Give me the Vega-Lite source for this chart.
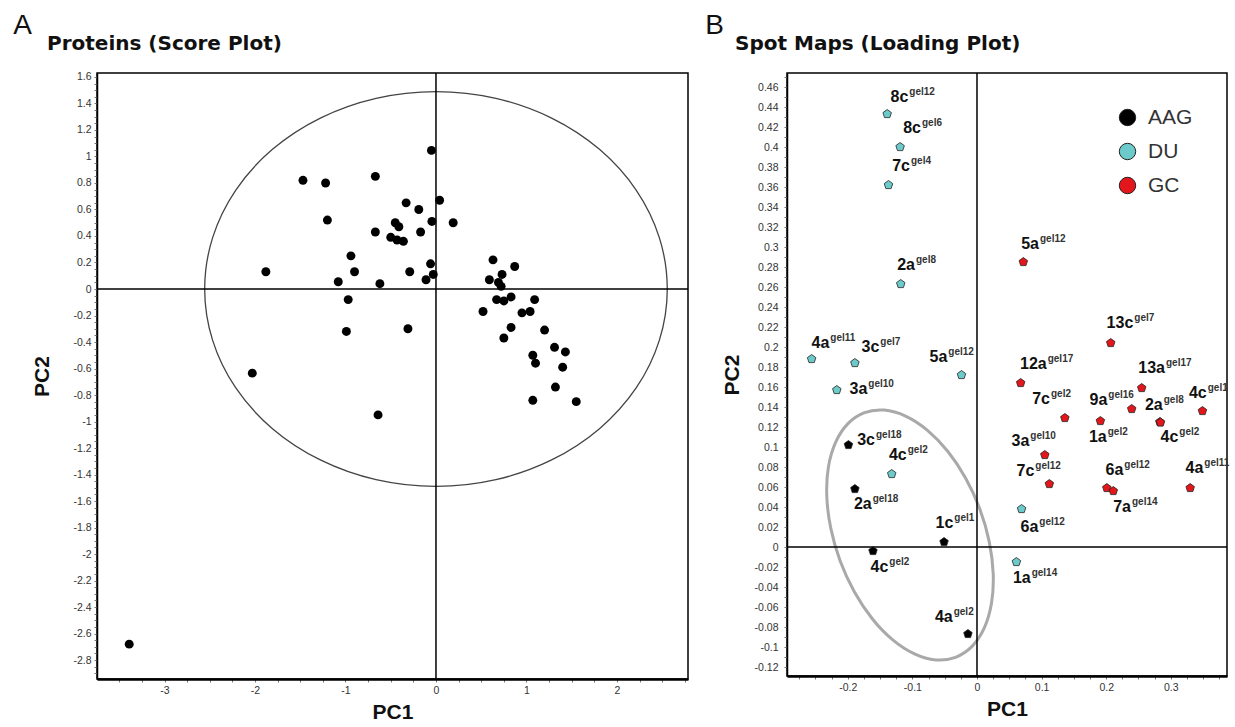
{
  "$schema": "https://vega.github.io/schema/vega-lite/v6.json",
  "padding": {"left": 13, "top": 12, "right": 0, "bottom": 0},
  "background": "white",
  "config": {
    "font": "Liberation Sans",
    "view": {"stroke": "#000", "strokeWidth": 1.5},
    "axis": {"grid": false, "labelFont": "Liberation Sans", "labelFontSize": 10.5, "labelColor": "#333", "tickColor": "#777", "tickSize": 3, "domainColor": "#000", "titleFont": "Liberation Sans", "titleFontSize": 21, "titleFontWeight": "bold", "titleColor": "#111", "labelFlush": false, "labelOverlap": false, "tickCount": 1000},
    "axisX": {"domainWidth": 2.5, "labelPadding": 3, "titlePadding": 6},
    "axisY": {"domainWidth": 1.5, "labelPadding": 3}
  },
  "spacing": 15,
  "resolve": {"scale": {"fill": "independent"}, "legend": {"fill": "independent"}},
  "hconcat": [
    {
      "title": {"text": "A", "anchor": "start", "fontSize": 28, "fontWeight": "normal", "font": "Liberation Sans", "dx": -18, "color": "#111", "offset": -7},
      "vconcat": [
        {
          "width": 591,
          "height": 606,
          "title": {"text": "Proteins (Score Plot)", "anchor": "start", "frame": "group", "font": "DejaVu Sans", "fontSize": 20, "fontWeight": "bold", "dx": -50, "offset": 18, "color": "#111"},
          "layer": [
            {
              "data": {"values": [
                {"i": 0, "x": 2.556, "y": 0}, {"i": 1, "x": 2.469, "y": 0.386}, {"i": 2, "x": 2.214, "y": 0.745}, {"i": 3, "x": 1.807, "y": 1.054},
                {"i": 4, "x": 1.278, "y": 1.29}, {"i": 5, "x": 0.662, "y": 1.439}, {"i": 6, "x": 0, "y": 1.49}, {"i": 7, "x": -0.662, "y": 1.439},
                {"i": 8, "x": -1.278, "y": 1.29}, {"i": 9, "x": -1.807, "y": 1.054}, {"i": 10, "x": -2.214, "y": 0.745}, {"i": 11, "x": -2.469, "y": 0.386},
                {"i": 12, "x": -2.556, "y": 0}, {"i": 13, "x": -2.469, "y": -0.386}, {"i": 14, "x": -2.214, "y": -0.745}, {"i": 15, "x": -1.807, "y": -1.054},
                {"i": 16, "x": -1.278, "y": -1.29}, {"i": 17, "x": -0.662, "y": -1.439}, {"i": 18, "x": 0, "y": -1.49}, {"i": 19, "x": 0.662, "y": -1.439},
                {"i": 20, "x": 1.278, "y": -1.29}, {"i": 21, "x": 1.807, "y": -1.054}, {"i": 22, "x": 2.214, "y": -0.745}, {"i": 23, "x": 2.469, "y": -0.386}
              ]},
              "mark": {"type": "line", "interpolate": "cardinal-closed", "stroke": "#444", "strokeWidth": 1.3},
              "encoding": {
                "x": {"field": "x", "type": "quantitative", "scale": {"domain": [-3.746, 2.785], "nice": false, "zero": false},
                  "axis": {"title": "PC1", "labelOverlap": false, "tickCount": 1000, "values": [-3.75,-3.5,-3.25,-3,-2.75,-2.5,-2.25,-2,-1.75,-1.5,-1.25,-1,-0.75,-0.5,-0.25,0,0.25,0.5,0.75,1,1.25,1.5,1.75,2,2.25,2.5,2.75],
                    "labelExpr": "abs(datum.value - round(datum.value)) < 0.001 ? '' + datum.value : ''"}},
                "y": {"field": "y", "type": "quantitative", "scale": {"domain": [-2.943, 1.63], "nice": false, "zero": false},
                  "axis": {"title": "PC2", "titlePadding": 20, "labelOverlap": false, "tickCount": 1000, "values": [1.6,1.55,1.5,1.45,1.4,1.35,1.3,1.25,1.2,1.15,1.1,1.05,1,0.95,0.9,0.85,0.8,0.75,0.7,0.65,0.6,0.55,0.5,0.45,0.4,0.35,0.3,0.25,0.2,0.15,0.1,0.05,0,-0.05,-0.1,-0.15,-0.2,-0.25,-0.3,-0.35,-0.4,-0.45,-0.5,-0.55,-0.6,-0.65,-0.7,-0.75,-0.8,-0.85,-0.9,-0.95,-1,-1.05,-1.1,-1.15,-1.2,-1.25,-1.3,-1.35,-1.4,-1.45,-1.5,-1.55,-1.6,-1.65,-1.7,-1.75,-1.8,-1.85,-1.9,-1.95,-2,-2.05,-2.1,-2.15,-2.2,-2.25,-2.3,-2.35,-2.4,-2.45,-2.5,-2.55,-2.6,-2.65,-2.7,-2.75,-2.8,-2.85,-2.9],
                    "labelExpr": "abs(datum.value*5 - round(datum.value*5)) < 0.001 ? '' + datum.value : ''"}},
                "order": {"field": "i", "type": "quantitative"}
              }
            },
            {
              "data": {"values": [{"v": 0}]},
              "mark": {"type": "rule", "stroke": "#000", "strokeWidth": 1.5},
              "encoding": {"x": {"field": "v", "type": "quantitative"}}
            },
            {
              "data": {"values": [{"v": 0}]},
              "mark": {"type": "rule", "stroke": "#000", "strokeWidth": 1.5},
              "encoding": {"y": {"field": "v", "type": "quantitative"}}
            },
            {
              "data": {"values": [
                {"x": -0.05, "y": 1.046}, {"x": -1.47, "y": 0.82}, {"x": -1.22, "y": 0.8}, {"x": -0.67, "y": 0.85}, {"x": -0.33, "y": 0.65},
                {"x": 0.04, "y": 0.67}, {"x": -0.19, "y": 0.6}, {"x": -1.2, "y": 0.52}, {"x": -0.45, "y": 0.5}, {"x": -0.41, "y": 0.47},
                {"x": -0.045, "y": 0.51}, {"x": 0.19, "y": 0.5}, {"x": -0.67, "y": 0.43}, {"x": -0.17, "y": 0.43}, {"x": -0.5, "y": 0.39},
                {"x": -0.43, "y": 0.37}, {"x": -0.36, "y": 0.36}, {"x": -0.94, "y": 0.25}, {"x": -1.88, "y": 0.13}, {"x": -0.9, "y": 0.13},
                {"x": -0.29, "y": 0.13}, {"x": -0.06, "y": 0.19}, {"x": -0.03, "y": 0.11}, {"x": -0.11, "y": 0.07}, {"x": -1.08, "y": 0.055},
                {"x": -0.62, "y": 0.04}, {"x": -0.97, "y": -0.08}, {"x": -0.99, "y": -0.32}, {"x": -0.31, "y": -0.3}, {"x": -2.03, "y": -0.635},
                {"x": -0.64, "y": -0.95}, {"x": -3.39, "y": -2.68}, {"x": 0.63, "y": 0.22}, {"x": 0.87, "y": 0.17}, {"x": 0.73, "y": 0.11},
                {"x": 0.59, "y": 0.07}, {"x": 0.69, "y": 0.05}, {"x": 0.72, "y": 0.02}, {"x": 0.67, "y": -0.08}, {"x": 0.75, "y": -0.09},
                {"x": 0.83, "y": -0.06}, {"x": 1.09, "y": -0.08}, {"x": 0.52, "y": -0.17}, {"x": 0.95, "y": -0.18}, {"x": 1.04, "y": -0.17},
                {"x": 0.83, "y": -0.29}, {"x": 0.75, "y": -0.37}, {"x": 1.2, "y": -0.31}, {"x": 1.31, "y": -0.44}, {"x": 1.43, "y": -0.475},
                {"x": 1.07, "y": -0.5}, {"x": 1.1, "y": -0.56}, {"x": 1.4, "y": -0.59}, {"x": 1.32, "y": -0.74}, {"x": 1.07, "y": -0.84},
                {"x": 1.55, "y": -0.85}
              ]},
              "mark": {"type": "point", "shape": "circle", "filled": true, "color": "#000", "size": 80, "opacity": 1},
              "encoding": {
                "x": {"field": "x", "type": "quantitative"},
                "y": {"field": "y", "type": "quantitative"}
              }
            }
          ]
        }
      ]
    },
    {
      "title": {"text": "B", "anchor": "start", "fontSize": 28, "fontWeight": "normal", "font": "Liberation Sans", "dx": -15, "color": "#111", "offset": -7},
      "resolve": {"scale": {"fill": "independent"}, "legend": {"fill": "independent"}},
      "vconcat": [
        {
          "width": 440,
          "height": 603,
          "title": {"text": "Spot Maps (Loading Plot)", "anchor": "start", "frame": "group", "font": "DejaVu Sans", "fontSize": 20, "fontWeight": "bold", "dx": -52, "offset": 18, "color": "#111"},
          "layer": [
            {
              "data": {"values": [
                {"i": 0, "x": -0.0333, "y": -0.1103}, {"i": 1, "x": -0.0077, "y": -0.0994}, {"i": 2, "x": 0.0113, "y": -0.0809}, {"i": 3, "x": 0.0225, "y": -0.0561},
                {"i": 4, "x": 0.0251, "y": -0.0267}, {"i": 5, "x": 0.0189, "y": 0.0054}, {"i": 6, "x": 0.0044, "y": 0.038}, {"i": 7, "x": -0.0175, "y": 0.0687},
                {"i": 8, "x": -0.0453, "y": 0.0957}, {"i": 9, "x": -0.0771, "y": 0.1169}, {"i": 10, "x": -0.1106, "y": 0.1309}, {"i": 11, "x": -0.1438, "y": 0.1369},
                {"i": 12, "x": -0.1741, "y": 0.1343}, {"i": 13, "x": -0.1997, "y": 0.1234}, {"i": 14, "x": -0.2187, "y": 0.1049}, {"i": 15, "x": -0.23, "y": 0.0801},
                {"i": 16, "x": -0.2325, "y": 0.0507}, {"i": 17, "x": -0.2263, "y": 0.0186}, {"i": 18, "x": -0.2118, "y": -0.014}, {"i": 19, "x": -0.1899, "y": -0.0447},
                {"i": 20, "x": -0.1621, "y": -0.0717}, {"i": 21, "x": -0.1304, "y": -0.0929}, {"i": 22, "x": -0.0968, "y": -0.1069}, {"i": 23, "x": -0.0637, "y": -0.1129}
              ]},
              "mark": {"type": "line", "interpolate": "cardinal-closed", "stroke": "#a9a9a9", "strokeWidth": 3},
              "encoding": {
                "x": {"field": "x", "type": "quantitative", "scale": {"domain": [-0.2941, 0.387], "nice": false, "zero": false},
                  "axis": {"title": "PC1", "labelOverlap": false, "tickCount": 1000, "values": [-0.275,-0.25,-0.225,-0.2,-0.175,-0.15,-0.125,-0.1,-0.075,-0.05,-0.025,0,0.025,0.05,0.075,0.1,0.125,0.15,0.175,0.2,0.225,0.25,0.275,0.3,0.325,0.35,0.375],
                    "labelExpr": "abs(datum.value*10 - round(datum.value*10)) < 0.001 ? '' + datum.value : ''"}},
                "y": {"field": "y", "type": "quantitative", "scale": {"domain": [-0.129, 0.474], "nice": false, "zero": false},
                  "axis": {"title": "PC2", "titlePadding": 12, "labelPadding": 6, "labelOverlap": false, "tickCount": 1000, "values": [0.47,0.46,0.45,0.44,0.43,0.42,0.41,0.4,0.39,0.38,0.37,0.36,0.35,0.34,0.33,0.32,0.31,0.3,0.29,0.28,0.27,0.26,0.25,0.24,0.23,0.22,0.21,0.2,0.19,0.18,0.17,0.16,0.15,0.14,0.13,0.12,0.11,0.1,0.09,0.08,0.07,0.06,0.05,0.04,0.03,0.02,0.01,0,-0.01,-0.02,-0.03,-0.04,-0.05,-0.06,-0.07,-0.08,-0.09,-0.1,-0.11,-0.12],
                    "labelExpr": "abs(datum.value*50 - round(datum.value*50)) < 0.001 ? '' + datum.value : ''"}},
                "order": {"field": "i", "type": "quantitative"}
              }
            },
            {
              "data": {"values": [{"v": 0}]},
              "mark": {"type": "rule", "stroke": "#000", "strokeWidth": 1.5},
              "encoding": {"x": {"field": "v", "type": "quantitative"}}
            },
            {
              "data": {"values": [{"v": 0}]},
              "mark": {"type": "rule", "stroke": "#000", "strokeWidth": 1.5},
              "encoding": {"y": {"field": "v", "type": "quantitative"}}
            },
            {
              "data": {"name": "spots", "values": [
                {"group": "DU", "x": -0.139, "y": 0.433, "lbl": "8c", "sup": "gel12", "lx": -0.1063, "ly": 0.4497},
                {"group": "DU", "x": -0.119, "y": 0.4, "lbl": "8c", "sup": "gel6", "lx": -0.0867, "ly": 0.4187},
                {"group": "DU", "x": -0.137, "y": 0.362, "lbl": "7c", "sup": "gel4", "lx": -0.1037, "ly": 0.381},
                {"group": "DU", "x": -0.118, "y": 0.263, "lbl": "2a", "sup": "gel8", "lx": -0.096, "ly": 0.282},
                {"group": "DU", "x": -0.256, "y": 0.188, "lbl": "4a", "sup": "gel11", "lx": -0.2286, "ly": 0.2043},
                {"group": "DU", "x": -0.189, "y": 0.184, "lbl": "3c", "sup": "gel7", "lx": -0.1512, "ly": 0.1997},
                {"group": "DU", "x": -0.217, "y": 0.157, "lbl": "3a", "sup": "gel10", "lx": -0.1698, "ly": 0.1577},
                {"group": "DU", "x": -0.024, "y": 0.172, "lbl": "5a", "sup": "gel12", "lx": -0.046, "ly": 0.1903},
                {"group": "DU", "x": -0.132, "y": 0.073, "lbl": "4c", "sup": "gel2", "lx": -0.1088, "ly": 0.092},
                {"group": "DU", "x": 0.069, "y": 0.038, "lbl": "6a", "sup": "gel12", "lx": 0.0949, "ly": 0.0203},
                {"group": "DU", "x": 0.061, "y": -0.015, "lbl": "1a", "sup": "gel14", "lx": 0.0831, "ly": -0.0307},
                {"group": "AAG", "x": -0.199, "y": 0.102, "lbl": "3c", "sup": "gel18", "lx": -0.1579, "ly": 0.107},
                {"group": "AAG", "x": -0.189, "y": 0.058, "lbl": "2a", "sup": "gel18", "lx": -0.163, "ly": 0.043},
                {"group": "AAG", "x": -0.051, "y": 0.005, "lbl": "1c", "sup": "gel1", "lx": -0.0367, "ly": 0.0243},
                {"group": "AAG", "x": -0.161, "y": -0.004, "lbl": "4c", "sup": "gel2", "lx": -0.1373, "ly": -0.0197},
                {"group": "AAG", "x": -0.014, "y": -0.087, "lbl": "4a", "sup": "gel2", "lx": -0.0376, "ly": -0.0697},
                {"group": "GC", "x": 0.0717, "y": 0.285, "lbl": "5a", "sup": "gel12", "lx": 0.096, "ly": 0.3027},
                {"group": "GC", "x": 0.207, "y": 0.204, "lbl": "13c", "sup": "gel7", "lx": 0.242, "ly": 0.2237},
                {"group": "GC", "x": 0.0676, "y": 0.164, "lbl": "12a", "sup": "gel17", "lx": 0.1079, "ly": 0.183},
                {"group": "GC", "x": 0.255, "y": 0.159, "lbl": "13a", "sup": "gel17", "lx": 0.291, "ly": 0.1787},
                {"group": "GC", "x": 0.136, "y": 0.129, "lbl": "7c", "sup": "gel2", "lx": 0.113, "ly": 0.148},
                {"group": "GC", "x": 0.2395, "y": 0.138, "lbl": "9a", "sup": "gel16", "lx": 0.2017, "ly": 0.147},
                {"group": "GC", "x": 0.191, "y": 0.126, "lbl": "1a", "sup": "gel2", "lx": 0.2008, "ly": 0.1103},
                {"group": "GC", "x": 0.283, "y": 0.125, "lbl": "2a", "sup": "gel8", "lx": 0.2875, "ly": 0.142},
                {"group": "GC", "x": 0.2841, "y": 0.1245, "lbl": "4c", "sup": "gel2", "lx": 0.3116, "ly": 0.1103},
                {"group": "GC", "x": 0.349, "y": 0.136, "lbl": "4c", "sup": "gel1", "lx": 0.3556, "ly": 0.1543},
                {"group": "GC", "x": 0.105, "y": 0.092, "lbl": "3a", "sup": "gel10", "lx": 0.081, "ly": 0.1063},
                {"group": "GC", "x": 0.112, "y": 0.063, "lbl": "7c", "sup": "gel12", "lx": 0.0887, "ly": 0.0763},
                {"group": "GC", "x": 0.201, "y": 0.059, "lbl": "6a", "sup": "gel12", "lx": 0.2265, "ly": 0.077},
                {"group": "GC", "x": 0.211, "y": 0.056, "lbl": "7a", "sup": "gel14", "lx": 0.2384, "ly": 0.0403},
                {"group": "GC", "x": 0.33, "y": 0.059, "lbl": "4a", "sup": "gel11", "lx": 0.3503, "ly": 0.0787}
              ]},
              "layer": [
                {
                  "mark": {"type": "point", "shape": "M0,-1L0.95,-0.31L0.59,0.81L-0.59,0.81L-0.95,-0.31Z", "filled": true, "stroke": "#222", "strokeWidth": 0.8, "size": 80, "opacity": 1},
                  "encoding": {
                    "x": {"field": "x", "type": "quantitative"},
                    "y": {"field": "y", "type": "quantitative"},
                    "fill": {"field": "group", "type": "nominal",
                      "scale": {"domain": ["AAG", "DU", "GC"], "range": ["#000000", "#6ccaca", "#e3161c"]},
                      "legend": {"title": null, "orient": "none", "legendX": 330, "legendY": 34, "symbolType": "circle", "symbolSize": 270, "symbolStrokeColor": "#222", "symbolStrokeWidth": 1, "labelFontSize": 21, "labelColor": "#333", "labelFont": "Liberation Sans", "rowPadding": 12, "labelOffset": 10}}
                  }
                },
                {
                  "mark": {"type": "text", "align": "right", "baseline": "middle", "font": "Liberation Sans", "fontSize": 16, "fontWeight": "bold", "color": "#111"},
                  "encoding": {
                    "x": {"field": "lx", "type": "quantitative"},
                    "y": {"field": "ly", "type": "quantitative"},
                    "text": {"field": "lbl"}
                  }
                },
                {
                  "mark": {"type": "text", "align": "left", "baseline": "middle", "dx": 1, "dy": -5, "font": "Liberation Sans", "fontSize": 10, "fontWeight": "bold", "color": "#333"},
                  "encoding": {
                    "x": {"field": "lx", "type": "quantitative"},
                    "y": {"field": "ly", "type": "quantitative"},
                    "text": {"field": "sup"}
                  }
                }
              ]
            }
          ]
        }
      ]
    }
  ]
}
